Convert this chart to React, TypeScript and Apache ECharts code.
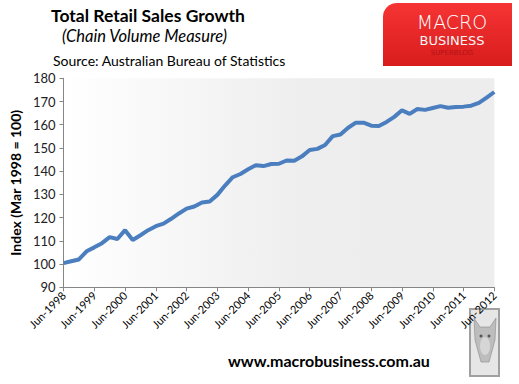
import React, { useEffect, useRef } from "react";
import * as echarts from "echarts";

const quarterMonths = ["Jun", "Sep", "Dec", "Mar"];

const categories: string[] = [];
for (let i = 0; i < 57; i++) {
  const m = quarterMonths[i % 4];
  const y = 1998 + Math.floor((i + 2) / 4);
  categories.push(`${m}-${y}`);
}

const retailIndex = [
  100.4, 101.2, 102.0, 105.5, 107.2, 109.0, 111.6, 110.8, 114.6, 110.4,
  112.4, 114.6, 116.3, 117.4, 119.5, 121.8, 123.9, 124.8, 126.5, 126.9,
  129.8, 133.8, 137.4, 138.8, 140.8, 142.6, 142.2, 143.1, 143.2, 144.6,
  144.5, 146.4, 149.1, 149.6, 151.3, 155.1, 155.8, 158.7, 160.9, 160.9,
  159.6, 159.5, 161.2, 163.4, 166.2, 164.7, 166.8, 166.4, 167.2, 168.0,
  167.3, 167.6, 167.8, 168.2, 169.4, 171.7, 174.1,
];

const yTicks = { min: 90, max: 180, interval: 10 };

const FONT = "Lato, 'Open Sans', sans-serif";
const LOGO_FONT = "'DejaVu Sans ExtraLight', 'DejaVu Sans', sans-serif";

export default function App() {
  const ref = useRef<HTMLDivElement>(null);
  useEffect(() => {
    if (!ref.current) return;
    const chart = echarts.init(ref.current, null, { renderer: "svg" });
    chart.setOption({
      animation: false,
      backgroundColor: "#ffffff",
      grid: {
        left: 60.5,
        right: 24.7,
        top: 78.3,
        bottom: 96.7,
        show: true,
        borderWidth: 0,
        backgroundColor: new echarts.graphic.LinearGradient(0, 0, 1, 0, [
          { offset: 0, color: "#ffffff" },
          { offset: 0.55, color: "#eeeeee" },
          { offset: 1, color: "#ededed" },
        ]),
      },
      xAxis: {
        type: "category",
        data: categories,
        boundaryGap: false,
        axisLine: { lineStyle: { color: "#868686", width: 1 } },
        axisTick: { interval: 3, length: 4, lineStyle: { color: "#868686" } },
        axisLabel: {
          interval: 3,
          rotate: 45,
          margin: 6,
          fontSize: 11,
          color: "#000",
          fontFamily: FONT,
        },
        splitLine: { show: false },
      },
      yAxis: {
        type: "value",
        min: yTicks.min,
        max: yTicks.max,
        interval: yTicks.interval,
        name: "Index (Mar 1998 = 100)",
        nameLocation: "middle",
        nameGap: 36,
        nameTextStyle: { fontSize: 14, fontWeight: "bold", color: "#000", fontFamily: FONT },
        axisLine: { show: true, lineStyle: { color: "#868686", width: 1 } },
        axisTick: { show: true, length: 4, lineStyle: { color: "#868686" } },
        axisLabel: { fontSize: 13, color: "#222", margin: 8, fontFamily: FONT },
        splitLine: { show: false },
      },
      series: [
        {
          type: "line",
          data: retailIndex,
          showSymbol: false,
          symbol: "none",
          lineStyle: { color: "#4a7ebf", width: 4 },
          itemStyle: { color: "#4a7ebf" },
        },
      ],
      graphic: [
        {
          type: "text",
          left: 51,
          top: 6,
          style: { text: "Total Retail Sales Growth", fontSize: 17.5, fontWeight: "bold", fill: "#000", fontFamily: FONT },
        },
        {
          type: "text",
          left: 62,
          top: 27,
          style: { text: "(Chain Volume Measure)", fontSize: 16.5, fontStyle: "italic", fill: "#000", fontFamily: FONT },
        },
        {
          type: "text",
          left: 53,
          top: 53,
          style: { text: "Source: Australian Bureau of Statistics", fontSize: 14, fill: "#000", fontFamily: FONT },
        },
        {
          type: "rect",
          shape: { x: 383, y: 3, width: 129, height: 63, r: [14, 0, 0, 0] },
          style: {
            fill: new echarts.graphic.LinearGradient(0, 0, 0, 1, [
              { offset: 0, color: "#f63434" },
              { offset: 1, color: "#d81c1c" },
            ]),
          },
        },
        {
          type: "text",
          x: 452,
          y: 22,
          style: { text: "MACRO", fontSize: 19, fontWeight: 200, fill: "#ffffff", fontFamily: LOGO_FONT, align: "center", verticalAlign: "middle" },
        },
        {
          type: "text",
          x: 452,
          y: 40,
          style: { text: "BUSINESS", fontSize: 13, fill: "#f4f4f4", fontFamily: "'DejaVu Sans', sans-serif", align: "center", verticalAlign: "middle" },
        },
        {
          type: "text",
          x: 452,
          y: 52.5,
          style: { text: "SUPERBLOG", fontSize: 7, fill: "#b31414", fontFamily: "'DejaVu Sans', sans-serif", align: "center", verticalAlign: "middle" },
        },
        {
          type: "text",
          left: 228,
          top: 352,
          style: { text: "www.macrobusiness.com.au", fontSize: 16, fontWeight: "bold", fill: "#000", fontFamily: FONT },
        },
        {
          type: "rect",
          shape: { x: 470, y: 309, width: 29, height: 67 },
          style: { fill: "#e6e6e6", stroke: "#a0a0a0", lineWidth: 2 },
        },
        {
          type: "polygon",
          shape: { points: [[474, 318], [480, 327], [490, 327], [496, 318], [495, 340], [489, 362], [481, 362], [475, 340]] },
          style: { fill: "#bdbdbd", stroke: "#8a8a8a", lineWidth: 0.6 },
        },
        {
          type: "ellipse",
          shape: { cx: 485, cy: 346, rx: 5, ry: 9 },
          style: { fill: "#d6d6d6" },
        },
        {
          type: "circle",
          shape: { cx: 481, cy: 336, r: 1.5 },
          style: { fill: "#555" },
        },
        {
          type: "circle",
          shape: { cx: 489, cy: 336, r: 1.5 },
          style: { fill: "#555" },
        },
      ],
    });
    return () => chart.dispose();
  }, []);
  return (
    <div
      ref={ref}
      style={{ position: "fixed", left: 0, top: 0, width: 519, height: 384 }}
    />
  );
}
